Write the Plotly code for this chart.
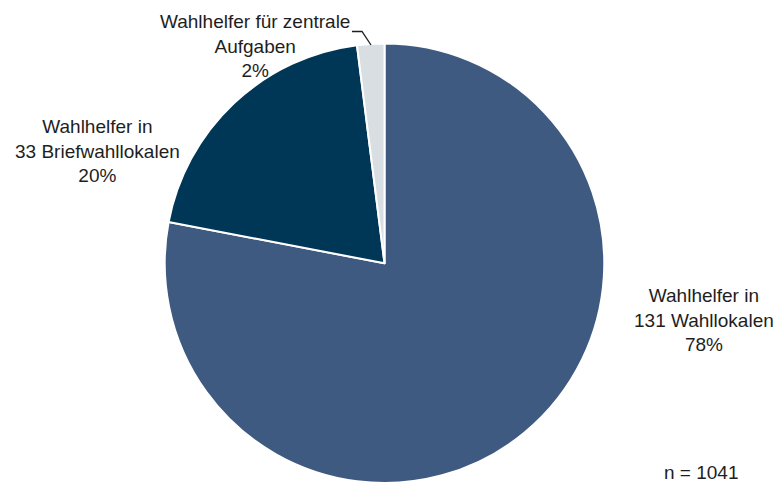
import plotly.graph_objects as go

# Distribution of poll workers (percent of all workers)
categories = [
    "Wahlhelfer in<br>131 Wahllokalen",
    "Wahlhelfer in<br>33 Briefwahllokalen",
    "Wahlhelfer für zentrale<br>Aufgaben",
]
shares = [78, 20, 2]
colors = ["#3F5A80", "#003656", "#D9DEE3"]
n_total = 1041

# Label anchor points (pixel positions on the 780x483 canvas)
label_pos = [(704, 320), (97, 151), (255, 46)]

W, H = 780, 483


def fx(x):
    return x / W


def fy(y):
    return 1 - y / H


fig = go.Figure(
    go.Pie(
        labels=categories,
        values=shares,
        sort=False,
        direction="clockwise",
        rotation=0,
        marker=dict(colors=colors, line=dict(color="white", width=2)),
        textinfo="none",
        hoverinfo="label+percent",
        showlegend=False,
        domain=dict(x=[fx(384.5 - 220), fx(384.5 + 220)], y=[0, 0.91]),
    )
)

text_font = dict(family="Liberation Sans, Arial, sans-serif", size=19, color="#1e1e1e")

annotations = []
for cat, val, (px_, py_) in zip(categories, shares, label_pos):
    annotations.append(
        dict(
            x=fx(px_), y=fy(py_), xref="paper", yref="paper",
            text=f"{cat}<br>{val}%", showarrow=False,
            xanchor="center", yanchor="middle", align="center",
            font=text_font,
        )
    )
annotations.append(
    dict(
        x=fx(701), y=fy(472), xref="paper", yref="paper",
        text=f"n = {n_total}", showarrow=False,
        xanchor="center", yanchor="middle", font=text_font,
    )
)

# Leader line for the small slice label
leader = dict(
    type="path", xref="paper", yref="paper",
    path=f"M {fx(352)} {fy(31.5)} L {fx(362)} {fy(31.5)} L {fx(371)} {fy(45)}",
    line=dict(color="#1e1e1e", width=1.3),
)

fig.update_layout(
    width=W, height=H,
    margin=dict(l=0, r=0, t=0, b=0),
    paper_bgcolor="white",
    plot_bgcolor="white",
    annotations=annotations,
    shapes=[leader],
)

fig.write_html("out.html")
